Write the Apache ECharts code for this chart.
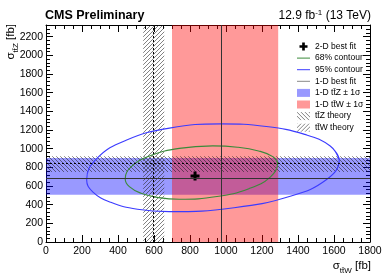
<!DOCTYPE html>
<html><head><meta charset="utf-8">
<script src="https://cdn.jsdelivr.net/npm/echarts@6/dist/echarts.min.js"></script>
<style>html,body{margin:0;padding:0;background:#fff}#c{width:382px;height:276px}</style>
</head><body><div id="c"></div>
<script>
// ---------------- data ----------------
const xTickLabels = [0, 200, 400, 600, 800, 1000, 1200, 1400, 1600, 1800];
const yTickLabels = [0, 200, 400, 600, 800, 1000, 1200, 1400, 1600, 1800, 2000, 2200];
const xRange = [0, 1800];
const yRange = [0, 2325];

// 1-D fits: [low, best, high]
const ttZ1D = [505, 685, 900];
const ttW1D = [700, 976, 1290];
// theory: [low, central, high]
const ttZTheory = [750, 839, 920];
const ttWTheory = [540, 598, 657];

// 2-D best fit
const bestFitX = [828];
const bestFitY = [708];

// 95% contour
const c95X = [1629, 1579, 1437, 1224, 972, 686, 445, 283, 226, 261, 360, 508, 683, 1045, 1352, 1557];
const c95Y = [880, 1028, 1153, 1237, 1266, 1220, 1090, 895, 665, 535, 425, 351, 325, 367, 488, 667];
// 68% contour
const c68X = [1287, 1260, 1181, 1064, 926, 740, 582, 477, 440, 463, 528, 626, 741, 950, 1127, 1246];
const c68Y = [844, 915, 976, 1016, 1030, 1003, 926, 812, 676, 593, 522, 475, 458, 487, 571, 696];

// ---------------- helpers ----------------
const FONT = '"Liberation Sans", Arial, Helvetica, sans-serif';
const BLUE_BAND = 'rgba(0,0,255,0.4)';
const RED_BAND = 'rgba(255,0,0,0.4)';
const LINE_ICON = 'path://M0,0H26V2H0Z';

function hatch(dir) {
  const s = 4;
  const c = document.createElement('canvas');
  c.width = s; c.height = s;
  const g = c.getContext('2d');
  g.strokeStyle = 'rgba(30,30,30,0.7)';
  g.lineWidth = 0.8;
  g.beginPath();
  for (let k = -1; k <= 1; k++) {
    if (dir === 'back') { g.moveTo(k * s, 0); g.lineTo(k * s + s, s); }
    else { g.moveTo(k * s, s); g.lineTo(k * s + s, 0); }
  }
  g.stroke();
  return { image: c, repeat: 'repeat' };
}
const hatchZ = hatch('back');
const hatchW = hatch('fwd');

function loop(xs, ys) {
  const p = xs.map((x, i) => [x, ys[i]]);
  return p.concat([p[0], p[1]]);
}

const tZ = 'tt\u0304Z', tW = 'tt\u0304W';
const N_Z = '1-D ' + tZ + ' \u00b1 1\u03c3';
const N_W = '1-D ' + tW + ' \u00b1 1\u03c3';
const N_ZT = tZ + ' theory';
const N_WT = tW + ' theory';

function axisCommon(pos, isX, showLabel) {
  const ticks = isX ? xTickLabels : yTickLabels;
  const rng = isX ? xRange : yRange;
  return {
    type: 'value', position: pos, min: rng[0], max: rng[1],
    interval: ticks[1] - ticks[0],
    axisLine: { show: true, onZero: false, lineStyle: { color: '#000', width: 1 } },
    axisTick: { show: true, inside: true, length: 7, lineStyle: { color: '#000', width: 1 } },
    minorTick: { show: true, splitNumber: isX ? 4 : 5, length: 4, lineStyle: { color: '#000', width: 1 } },
    splitLine: { show: false },
    axisLabel: {
      show: showLabel, color: '#000', fontSize: 10.5, fontFamily: FONT, margin: isX ? 4 : 3,
      showMaxLabel: isX ? true : false,
      formatter: v => (ticks.indexOf(v) >= 0 ? String(v) : '')
    }
  };
}

const chart = echarts.init(document.getElementById('c'), null, { renderer: 'canvas' });
chart.setOption({
  animation: false,
  backgroundColor: '#fff',
  grid: { left: 46, right: 12, top: 25, bottom: 34, containLabel: false, outerBoundsMode: 'none' },
  title: [
    { text: 'CMS Preliminary', left: 45, top: 9, padding: 0,
      textStyle: { fontFamily: FONT, fontWeight: 'bold', fontSize: 12.5, color: '#000' } },
    { text: '12.9 fb{sup|-1} (13 TeV)', right: 11, top: 9, padding: 0,
      textStyle: { fontFamily: FONT, fontWeight: 'normal', fontSize: 12, color: '#000', lineHeight: 14,
        rich: { sup: { fontFamily: FONT, fontSize: 8, color: '#000', verticalAlign: 'top', lineHeight: 14 } } } }
  ],
  xAxis: [axisCommon('bottom', true, true), axisCommon('top', true, false)],
  yAxis: [axisCommon('left', false, true), axisCommon('right', false, false)],
  legend: {
    orient: 'vertical', left: 292, top: 37, itemWidth: 13, itemHeight: 8, itemGap: 2.6,
    selectedMode: false,
    textStyle: { fontFamily: FONT, fontSize: 8.5, color: '#000' },
    data: [
      { name: '2-D best fit' },
      { name: '68% contour', icon: LINE_ICON, itemStyle: { color: '#3a8a3a', borderWidth: 0 } },
      { name: '95% contour', icon: LINE_ICON, itemStyle: { color: '#3b3bff', borderWidth: 0 } },
      { name: '1-D best fit', icon: LINE_ICON, itemStyle: { color: '#888', borderWidth: 0 } },
      { name: N_Z, icon: 'rect', itemStyle: { color: BLUE_BAND, borderWidth: 0 } },
      { name: N_W, icon: 'rect', itemStyle: { color: RED_BAND, borderWidth: 0 } },
      { name: N_ZT, icon: 'rect', itemStyle: { color: hatchZ, borderWidth: 0 } },
      { name: N_WT, icon: 'rect', itemStyle: { color: hatchW, borderWidth: 0 } }
    ]
  },
  graphic: [
    { type: 'text', x: 11, y: 24, rotation: Math.PI / 2, silent: true,
      style: { text: '\u03c3{sub|' + tZ + '} [fb]', align: 'right', verticalAlign: 'middle',
        font: '11.5px ' + FONT, fill: '#000', lineHeight: 17,
        rich: { sub: { fontFamily: FONT, fontSize: 8, fill: '#000', color: '#000', verticalAlign: 'bottom', lineHeight: 17 } } } },
    { type: 'text', x: 371, y: 266, silent: true,
      style: { text: '\u03c3{sub|' + tW + '} [fb]', align: 'right', verticalAlign: 'middle',
        font: '11.5px ' + FONT, fill: '#000', lineHeight: 17,
        rich: { sub: { fontFamily: FONT, fontSize: 8, fill: '#000', color: '#000', verticalAlign: 'bottom', lineHeight: 17 } } } }
  ],
  series: [
    { name: N_Z, type: 'line', data: [], silent: true,
      markArea: { silent: true, itemStyle: { color: BLUE_BAND, opacity: 1, borderWidth: 0 },
        data: [[{ yAxis: ttZ1D[0] }, { yAxis: ttZ1D[2] }]] } },
    { name: N_W, type: 'line', data: [], silent: true,
      markArea: { silent: true, itemStyle: { color: RED_BAND, opacity: 1, borderWidth: 0 },
        data: [[{ xAxis: ttW1D[0] }, { xAxis: ttW1D[2] }]] } },
    { name: N_ZT, type: 'line', data: [], silent: true,
      markArea: { silent: true, itemStyle: { color: hatchZ, opacity: 1, borderWidth: 0 },
        data: [[{ yAxis: ttZTheory[0] }, { yAxis: ttZTheory[2] }]] },
      markLine: { silent: true, symbol: 'none', label: { show: false },
        lineStyle: { color: '#000', width: 1, type: [2, 2] },
        data: [{ yAxis: ttZTheory[1] }] } },
    { name: N_WT, type: 'line', data: [], silent: true,
      markArea: { silent: true, itemStyle: { color: hatchW, opacity: 1, borderWidth: 0 },
        data: [[{ xAxis: ttWTheory[0] }, { xAxis: ttWTheory[2] }]] },
      markLine: { silent: true, symbol: 'none', label: { show: false },
        lineStyle: { color: '#000', width: 1, type: [2, 2] },
        data: [{ xAxis: ttWTheory[1] }] } },
    { name: '1-D best fit', type: 'line', data: [], silent: true, symbol: 'none',
      lineStyle: { color: '#333', width: 1 }, itemStyle: { color: '#333' },
      markLine: { silent: true, symbol: 'none', label: { show: false },
        lineStyle: { color: '#333', width: 1, type: 'solid' },
        data: [{ yAxis: ttZ1D[1] }, { xAxis: ttW1D[1] }] } },
    { name: '95% contour', type: 'line', data: loop(c95X, c95Y), smooth: 0.45, symbol: 'none', silent: true,
      lineStyle: { color: '#3b3bff', width: 1.1 }, itemStyle: { color: '#3b3bff' } },
    { name: '68% contour', type: 'line', data: loop(c68X, c68Y), smooth: 0.45, symbol: 'none', silent: true,
      lineStyle: { color: '#3a8a3a', width: 1.1 }, itemStyle: { color: '#3a8a3a' } },
    { name: '2-D best fit', type: 'scatter', silent: true,
      data: bestFitX.map((x, i) => [x, bestFitY[i]]),
      symbol: 'path://M3,0H6V3H9V6H6V9H3V6H0V3H3Z', symbolSize: 9,
      itemStyle: { color: '#000', opacity: 1 } }
  ]
});
</script></body></html>
